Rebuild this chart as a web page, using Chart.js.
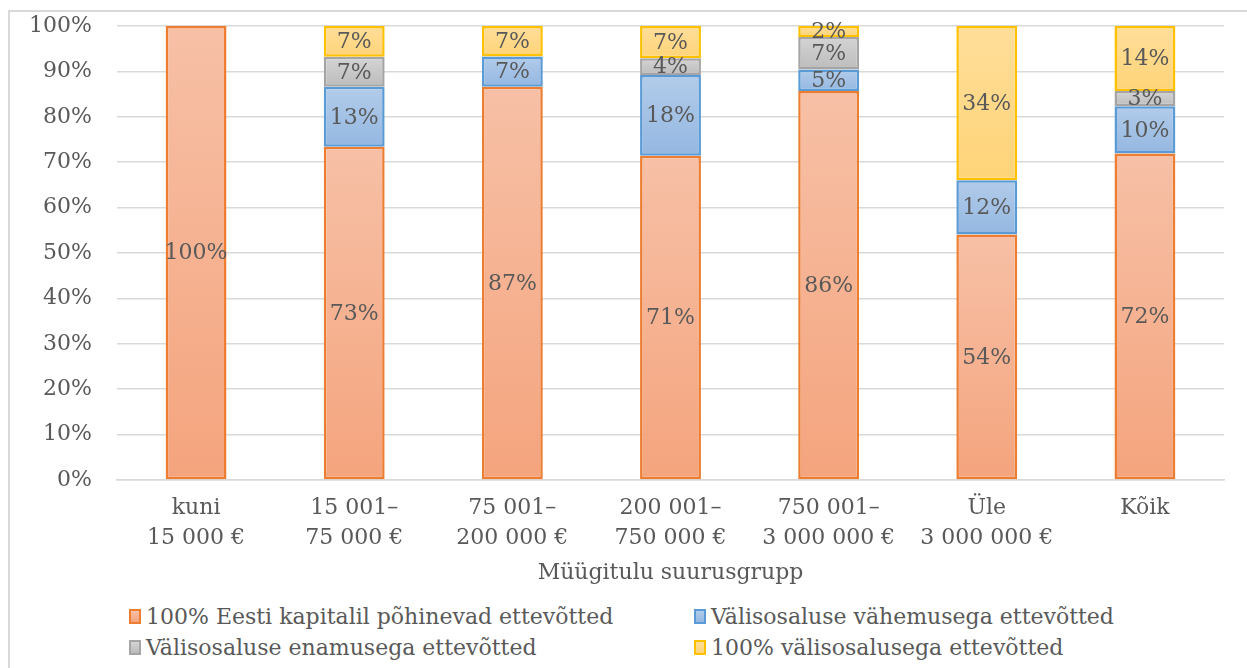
<!DOCTYPE html>
<html>
<head>
<meta charset="utf-8">
<script src="https://cdn.jsdelivr.net/npm/chart.js@4.4.1/dist/chart.umd.min.js"></script>
<style>
    body { margin: 0; background: #fff; width: 1247px; height: 668px; overflow: hidden; position: relative; font-family: "DejaVu Serif", serif; }
    .frame { position: absolute; left: 8px; top: 10px; width: 1300px; height: 700px; border-left: 2px solid #d9d9d9; border-top: 2px solid #d9d9d9; }
    #chart { position: absolute; left: 0; top: 0; }
    .legend-item { position: absolute; height: 28px; display: flex; align-items: center; color: #595959; font-size: 22px; white-space: nowrap; }
    .legend-item .box { width: 8px; height: 11px; border-width: 2px; border-style: solid; margin-right: 5px; }
</style>
</head>
<body>
<div class="frame"></div>
<canvas id="chart" width="1247" height="590"></canvas>
<div id="legend"></div>
<script>
// categories (x axis), two-line labels
const categories = [
    ['kuni', '15 000 €'],
    ['15 001–', '75 000 €'],
    ['75 001–', '200 000 €'],
    ['200 001–', '750 000 €'],
    ['750 001–', '3 000 000 €'],
    ['Üle', '3 000 000 €'],
    ['Kõik']
];

// shares in %
const eestiKapital = [100, 73.4, 86.6, 71.4, 85.7, 54.1, 71.9];
const vahemusega = [0, 13.2, 6.7, 17.8, 4.7, 11.9, 10.4];
const enamusega = [0, 6.6, 0, 3.7, 7.2, 0, 3.4];
const taielikult = [0, 6.8, 6.7, 7.1, 2.4, 34.0, 14.3];

const seriesNames = [
    '100% Eesti kapitalil põhinevad ettevõtted',
    'Välisosaluse vähemusega ettevõtted',
    'Välisosaluse enamusega ettevõtted',
    '100% välisosalusega ettevõtted'
];

const yTicks = [0, 10, 20, 30, 40, 50, 60, 70, 80, 90, 100];

const textColor = '#595959';
const fontFamily = '"DejaVu Serif", serif';
const fontSize = 22;

// border colour + gradient (top, bottom) per series
const palette = [
    { border: '#ED7D31', top: '#F7C0A6', bottom: '#F4A47D' },
    { border: '#5B9BD5', top: '#B2CCEA', bottom: '#94B7E1' },
    { border: '#A5A5A5', top: '#D4D4D4', bottom: '#BCBCBC' },
    { border: '#FFC000', top: '#FFDE9A', bottom: '#FFD478' }
];

const allSeries = [eestiKapital, vahemusega, enamusega, taielikult];

// gradient for each stacked segment
function segmentFill(context) {
    const chart = context.chart;
    const { ctx, chartArea } = chart;
    const ds = context.datasetIndex;
    const pal = palette[ds];
    if (!chartArea || context.type !== 'data') return pal.bottom;
    const i = context.dataIndex;
    let start = 0;
    for (let k = 0; k < ds; k++) start += allSeries[k][i];
    const end = start + allSeries[ds][i];
    const y = chart.scales.y;
    const top = y.getPixelForValue(end);
    const bottom = y.getPixelForValue(start);
    if (!isFinite(top) || !isFinite(bottom) || top === bottom) return pal.bottom;
    const g = ctx.createLinearGradient(0, top, 0, bottom);
    g.addColorStop(0, pal.top);
    g.addColorStop(1, pal.bottom);
    return g;
}

// value labels in the middle of each segment
const segmentLabels = {
    id: 'segmentLabels',
    afterDatasetsDraw(chart) {
        const ctx = chart.ctx;
        ctx.save();
        ctx.font = fontSize + 'px ' + fontFamily;
        ctx.fillStyle = textColor;
        ctx.textAlign = 'center';
        ctx.textBaseline = 'middle';
        chart.data.datasets.forEach((dataset, di) => {
            const meta = chart.getDatasetMeta(di);
            meta.data.forEach((bar, i) => {
                const v = dataset.data[i];
                if (!v) return;
                const p = bar.getProps(['x', 'y', 'base'], true);
                ctx.fillText(Math.round(v) + '%', p.x, (p.y + p.base) / 2 + 1);
            });
        });
        ctx.restore();
    }
};

const chart = new Chart(document.getElementById('chart').getContext('2d'), {
    type: 'bar',
    data: {
        labels: categories,
        datasets: allSeries.map((values, k) => ({
            label: seriesNames[k],
            data: values,
            backgroundColor: segmentFill,
            borderColor: palette[k].border,
            borderWidth: 2.5,
            borderSkipped: false,
            categoryPercentage: 1,
            barPercentage: 0.385
        }))
    },
    options: {
        responsive: false,
        animation: false,
        layout: { padding: { left: 0, right: 23, top: 26, bottom: 0 } },
        plugins: {
            legend: { display: false },
            tooltip: { enabled: false }
        },
        scales: {
            x: {
                stacked: true,
                grid: { display: false },
                border: { display: true, color: '#d9d9d9', width: 1.5 },
                ticks: {
                    color: textColor,
                    font: { family: fontFamily, size: fontSize, lineHeight: 1.36 },
                    padding: 5,
                    maxRotation: 0,
                    autoSkip: false
                },
                title: {
                    display: true,
                    text: 'Müügitulu suurusgrupp',
                    color: textColor,
                    font: { family: fontFamily, size: fontSize },
                    padding: { top: 4, bottom: 4 }
                },
                afterFit(scale) { scale.height = 110; }
            },
            y: {
                stacked: true,
                min: 0,
                max: 100,
                afterBuildTicks(scale) { scale.ticks = yTicks.map(v => ({ value: v })); },
                grid: { color: '#d9d9d9', lineWidth: 1.5, drawTicks: false },
                border: { display: false },
                ticks: {
                    color: textColor,
                    font: { family: fontFamily, size: fontSize },
                    padding: 25,
                    callback: v => v + '%'
                },
                afterFit(scale) {
                    scale.width = 117;
                    scale.paddingTop = 0;
                    scale.paddingBottom = 0;
                }
            }
        }
    },
    plugins: [segmentLabels]
});

// legend in two columns, built from the datasets
const legendSlots = [
    { left: 129, top: 602 },
    { left: 694, top: 602 },
    { left: 129, top: 633 },
    { left: 694, top: 633 }
];
const legend = document.getElementById('legend');
chart.data.datasets.forEach((ds, k) => {
    const item = document.createElement('div');
    item.className = 'legend-item';
    item.style.left = legendSlots[k].left + 'px';
    item.style.top = legendSlots[k].top + 'px';
    const box = document.createElement('span');
    box.className = 'box';
    box.style.borderColor = palette[k].border;
    box.style.background = 'linear-gradient(' + palette[k].top + ', ' + palette[k].bottom + ')';
    item.appendChild(box);
    item.appendChild(document.createTextNode(ds.label));
    legend.appendChild(item);
});
</script>
</body>
</html>
